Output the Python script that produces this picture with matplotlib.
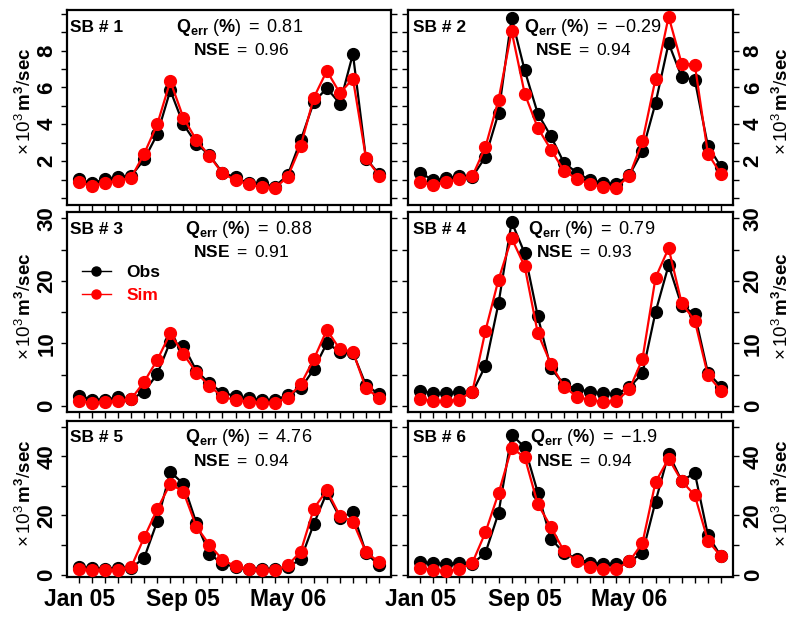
import matplotlib
matplotlib.use('Agg')
import matplotlib.pyplot as plt
from matplotlib.lines import Line2D
import numpy as np

plt.rcParams['font.family'] = ['Liberation Sans', 'DejaVu Sans']
plt.rcParams['mathtext.fontset'] = 'custom'
plt.rcParams['mathtext.rm'] = 'Liberation Sans'
plt.rcParams['mathtext.bf'] = 'Liberation Sans:bold'
plt.rcParams['mathtext.it'] = 'Liberation Sans:italic'

# ---------------- data ----------------
months = ['Jan 05', 'Feb 05', 'Mar 05', 'Apr 05', 'May 05', 'Jun 05', 'Jul 05', 'Aug 05',
          'Sep 05', 'Oct 05', 'Nov 05', 'Dec 05', 'Jan 06', 'Feb 06', 'Mar 06', 'Apr 06',
          'May 06', 'Jun 06', 'Jul 06', 'Aug 06', 'Sep 06', 'Oct 06', 'Nov 06', 'Dec 06']
xtick_labels = ['Jan 05', 'Sep 05', 'May 06']

sb_names = ['SB # 1', 'SB # 2', 'SB # 3', 'SB # 4', 'SB # 5', 'SB # 6']
qerr = ['0.81', '{-}0.29', '0.88', '0.79', '4.76', '{-}1.9']
nse = ['0.96', '0.94', '0.91', '0.93', '0.94', '0.94']

obs1 = [1.03, 0.79, 1.03, 1.15, 1.2, 2.09, 3.46, 5.84, 4.0, 2.95, 2.32, 1.37,
        1.12, 0.79, 0.79, 0.61, 1.24, 3.14, 5.2, 5.96, 5.12, 7.82, 2.14, 1.3]
sim1 = [0.85, 0.65, 0.83, 0.94, 1.1, 2.41, 4.0, 6.34, 4.36, 3.14, 2.29, 1.33,
        0.97, 0.74, 0.58, 0.52, 1.15, 2.83, 5.44, 6.9, 5.69, 6.47, 2.18, 1.21]

obs2 = [1.37, 0.97, 1.06, 1.19, 1.15, 2.23, 4.61, 9.77, 6.92, 4.58, 3.35, 1.91,
        1.37, 0.97, 0.83, 0.76, 1.24, 2.56, 5.15, 8.4, 6.56, 6.41, 2.83, 1.69]
sim2 = [0.88, 0.68, 0.88, 1.01, 1.19, 2.77, 5.33, 9.05, 5.66, 3.8, 2.63, 1.48,
        1.03, 0.76, 0.58, 0.56, 1.21, 3.08, 6.47, 9.84, 7.28, 7.24, 2.41, 1.3]

obs3 = [1.6, 1.0, 1.0, 1.34, 1.07, 2.25, 5.08, 10.27, 9.63, 5.6, 3.58, 2.09,
        1.55, 1.18, 1.0, 0.9, 1.7, 2.78, 5.83, 10.0, 8.66, 8.5, 3.3, 1.87]
sim3 = [0.75, 0.48, 0.64, 0.75, 1.07, 3.85, 7.33, 11.6, 8.29, 5.3, 3.16, 1.44,
        0.9, 0.64, 0.48, 0.48, 1.28, 3.42, 7.43, 12.14, 9.04, 8.66, 2.78, 1.28]

obs4 = [2.4, 1.98, 1.98, 2.25, 2.14, 6.4, 16.4, 29.4, 24.4, 14.3, 6.0, 3.42,
        2.67, 2.25, 1.98, 1.87, 2.94, 5.19, 15.0, 22.5, 16.0, 14.65, 5.3, 3.05]
sim4 = [1.07, 0.75, 0.75, 1.0, 2.25, 12.0, 20.2, 26.8, 22.3, 11.6, 6.7, 3.05,
        1.44, 0.9, 0.64, 0.75, 2.62, 7.49, 20.5, 25.2, 16.4, 13.6, 4.9, 2.4]

obs5 = [2.57, 2.23, 2.0, 2.35, 2.23, 5.7, 18.0, 34.7, 30.7, 17.4, 7.0, 3.7,
        2.57, 2.0, 2.0, 1.8, 2.57, 5.14, 17.1, 27.7, 19.3, 21.0, 7.37, 3.13]
sim5 = [1.8, 1.45, 1.45, 1.68, 2.57, 12.6, 22.1, 30.7, 28.0, 16.2, 10.1, 5.03,
        2.79, 1.8, 1.45, 1.45, 3.13, 7.8, 22.3, 28.5, 19.9, 17.9, 7.6, 4.25]

obs6 = [4.25, 3.9, 3.7, 3.9, 3.7, 7.37, 20.8, 47.3, 43.0, 27.7, 12.1, 7.37,
        5.36, 4.0, 3.7, 3.7, 4.47, 7.26, 24.7, 40.9, 31.6, 34.4, 13.4, 6.15]
sim6 = [2.35, 1.45, 1.23, 1.8, 4.0, 14.3, 27.5, 42.8, 39.7, 23.8, 16.2, 7.9,
        4.47, 2.57, 1.8, 2.0, 4.47, 10.7, 31.3, 39.2, 31.6, 26.8, 11.5, 6.15]

obs_all = [obs1, obs2, obs3, obs4, obs5, obs6]
sim_all = [sim1, sim2, sim3, sim4, sim5, sim6]

# y axis settings per row
row_ylim = [(-0.38, 10.2), (-1.0, 31.0), (-0.8, 51.9)]
row_ystep = [1, 5, 10]
row_ymax = [10, 30, 50]
row_ylab = [[2, 4, 6, 8], [0, 10, 20, 30], [0, 20, 40]]

# ---------------- layout (pixels) ----------------
W, H = 800, 617
cols = [(67, 391), (408, 733)]
rows = [(10, 205), (212, 412), (421, 577)]
q_x = [176, 524, 185, 528, 185, 530]
n_x = [193, 535, 193, 536, 193, 536]
sb_x = [70, 413]

fig = plt.figure(figsize=(W / 100, H / 100), dpi=100)

x = np.arange(len(months))
xt_idx = [months.index(m) for m in xtick_labels]

def fx(px):
    return px / W

def fy(py):
    return 1 - py / H

for i in range(6):
    r, c = divmod(i, 2)
    x0, x1 = cols[c]
    y0, y1 = rows[r]
    ax = fig.add_axes([fx(x0), fy(y1), (x1 - x0) / W, (y1 - y0) / H])
    ax.plot(x, obs_all[i], color='black', lw=1.6, marker='o', ms=8.5, label='Obs', zorder=3)
    ax.plot(x, sim_all[i], color='#ff0000', lw=1.6, marker='o', ms=8.5, label='Sim', zorder=4)
    ax.set_xlim(-0.92, len(months) - 1 + 0.92)
    ax.set_ylim(*row_ylim[r])

    ax.set_xticks(x)
    if r == 2:
        ax.set_xticklabels([months[k] if k in xt_idx else '' for k in x])
    else:
        ax.set_xticklabels(['' for k in x])

    yt = np.arange(0, row_ymax[r] + 0.001, row_ystep[r])
    ax.set_yticks(yt)
    ax.set_yticklabels([('%g' % v) if v in row_ylab[r] else '' for v in yt])

    for s in ax.spines.values():
        s.set_linewidth(1.6)
    ax.tick_params(axis='both', direction='out', length=4, width=1.0, pad=3)
    ax.tick_params(axis='x', labelsize=16.5, pad=4)
    for lab in ax.get_xticklabels():
        lab.set_fontweight('bold')
    if c == 0:
        ax.tick_params(axis='y', left=True, right=True, labelleft=True, labelright=False,
                       labelsize=16)
    else:
        ax.tick_params(axis='y', left=True, right=True, labelleft=False, labelright=True,
                       labelsize=16)
    for lab in ax.get_yticklabels():
        lab.set_fontweight('bold')
        lab.set_rotation(90)
        lab.set_va('center')

    # annotations
    top = y0
    fig.text(fx(sb_x[c]), fy(top + 17), sb_names[i], fontsize=12.5, fontweight='bold',
             ha='left', va='center')
    fig.text(fx(q_x[i]), fy(top + 17),
             r'$\mathbf{Q_{err}}\ (\mathbf{\%})\ =\ ' + qerr[i] + '$',
             fontsize=13, ha='left', va='center')
    fig.text(fx(n_x[i]), fy(top + 40), r'$\mathbf{NSE}\ =\ ' + nse[i] + '$',
             fontsize=12.5, ha='left', va='center')

    # y label
    ymid = (y0 + y1) / 2 - 6
    lx = 25 if c == 0 else 782
    fig.text(fx(lx), fy(ymid), r'$\times\,10^3\,\mathbf{m^3}/\mathbf{sec}$',
             fontsize=13.5, rotation=90, ha='center', va='center')

    if i == 2:
        handles = [Line2D([], [], color='black', lw=1.0, marker='o', ms=6.5),
                   Line2D([], [], color='#ff0000', lw=1.0, marker='o', ms=6.5)]
        leg = ax.legend(handles, ['Obs', 'Sim'], loc='upper left',
                        bbox_to_anchor=(0.045, 0.735), frameon=False,
                        borderaxespad=0, borderpad=0, handlelength=1.7,
                        handletextpad=0.9, labelspacing=0.45,
                        prop={'weight': 'bold', 'size': 12.5})
        for t, col in zip(leg.get_texts(), ['black', '#ff0000']):
            t.set_color(col)

fig.savefig('out.png', dpi=100)
